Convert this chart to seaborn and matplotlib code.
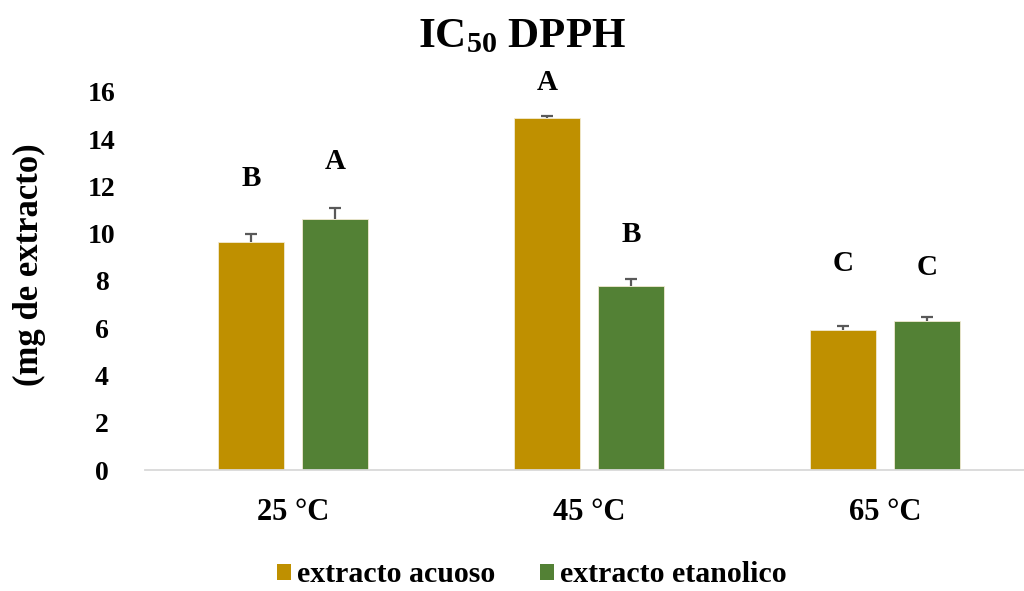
import matplotlib
matplotlib.use("Agg")
import matplotlib.pyplot as plt
import seaborn as sns
import pandas as pd
from matplotlib.patches import Patch

# IC50 (mg de extracto) for each extraction temperature and solvent
temperatures = ["25 °C", "45 °C", "65 °C"]
series_names = ["extracto acuoso", "extracto etanolico"]
acuoso_values = [9.67, 14.92, 5.91]
acuoso_errors = [0.32, 0.08, 0.17]
etanolico_values = [10.62, 7.78, 6.29]
etanolico_errors = [0.46, 0.30, 0.19]
acuoso_letters = ["B", "A", "C"]
etanolico_letters = ["A", "B", "C"]
acuoso_letter_y = [12.0, 16.08, 8.44]
etanolico_letter_y = [12.74, 9.66, 8.25]
y_ticks = [0, 2, 4, 6, 8, 10, 12, 14, 16]

colors = {"extracto acuoso": "#BF9000", "extracto etanolico": "#538135"}

sns.set_theme(style="white")
serif = ["Liberation Serif", "DejaVu Serif"]
plt.rcParams["font.family"] = serif
plt.rcParams["font.weight"] = "bold"
plt.rcParams["text.color"] = "black"
plt.rcParams["xtick.color"] = "black"
plt.rcParams["ytick.color"] = "black"
plt.rcParams["mathtext.fontset"] = "custom"
plt.rcParams["mathtext.rm"] = "Liberation Serif:bold"
plt.rcParams["mathtext.it"] = "Liberation Serif:bold"
plt.rcParams["mathtext.bf"] = "Liberation Serif:bold"

df = pd.DataFrame({
    "temp": temperatures * 2,
    "serie": [series_names[0]] * 3 + [series_names[1]] * 3,
    "valor": acuoso_values + etanolico_values,
    "err": acuoso_errors + etanolico_errors,
    "letra": acuoso_letters + etanolico_letters,
    "letra_y": acuoso_letter_y + etanolico_letter_y,
})

fig = plt.figure(figsize=(10.24, 5.91), dpi=100)
ax = fig.add_axes([145 / 1024, 121 / 591, 879 / 1024, 378 / 591])

sns.barplot(data=df, x="temp", y="valor", hue="serie", order=temperatures,
            hue_order=series_names, palette=colors, saturation=1, width=0.568, gap=0.214,
            errorbar=None, ax=ax, legend=False, edgecolor="#f2ead2", linewidth=0.6)

# upper error bars and significance letters placed on the drawn bars
patches = sorted([p for p in ax.patches if p.get_height() > 0], key=lambda p: p.get_x())
order_keys = [(t, s) for t in temperatures for s in series_names]
lookup = df.set_index(["temp", "serie"])
for p, key in zip(patches, order_keys):
    row = lookup.loc[key]
    xc = p.get_x() + p.get_width() / 2
    _, caps, _ = ax.errorbar(xc, row["valor"], yerr=[[0], [row["err"]]], fmt="none",
                             ecolor="#595959", elinewidth=1.6, capsize=4.3, capthick=1.6,
                             zorder=3)
    caps[0].set_visible(False)
    ax.text(xc, row["letra_y"], row["letra"], ha="center", va="baseline",
            fontsize=21, fontweight="bold", family=serif, clip_on=False, color="black")

ax.set_xlim(-0.5, 2.47)
ax.set_ylim(0, 16)
ax.set_yticks(y_ticks)
ax.set_yticklabels([str(v) for v in y_ticks], fontsize=20, fontweight="bold", ha="center")
ax.tick_params(axis="y", length=0, pad=31)
ax.tick_params(axis="x", length=0, pad=20, labelsize=22)
for lab in ax.get_xticklabels():
    lab.set_fontweight("bold")
ax.set_xlabel("")
ax.set_ylabel("")
for side in ["top", "right", "left"]:
    ax.spines[side].set_visible(False)
ax.spines["bottom"].set_color("#D9D9D9")
ax.spines["bottom"].set_linewidth(1.3)
ax.grid(False)

fig.text(29 / 1024, 1 - 265 / 591, "(mg de extracto)", rotation=90, ha="center", va="center",
         fontsize=25, fontweight="bold", family=serif)
fig.text(522 / 1024, 1 - 47 / 591, "IC$_{50}$ DPPH", ha="center", va="baseline",
         fontsize=31, fontweight="bold", family=serif)

handles = [Patch(facecolor=colors[s], edgecolor="none") for s in series_names]
fig.legend(handles, series_names, loc="center", bbox_to_anchor=(532 / 1024, 1 - 575 / 591),
           ncol=2, frameon=False, borderpad=0.1, handlelength=0.47, handleheight=0.47,
           handletextpad=0.2, columnspacing=1.5,
           prop={"family": serif, "weight": "bold", "size": 21.5})

fig.savefig("out.png", dpi=100)
